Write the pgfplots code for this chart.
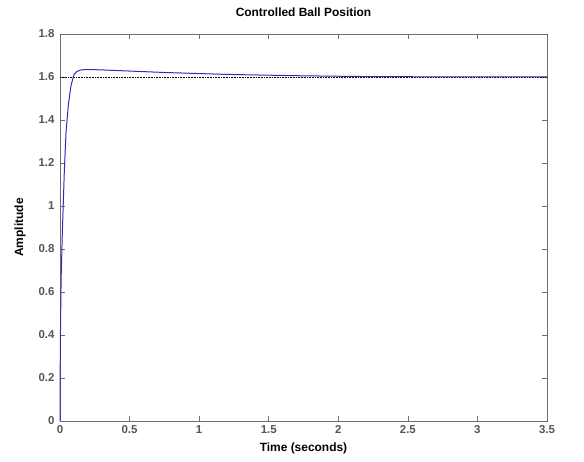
\documentclass[border=0pt]{standalone}
\usepackage{pgfplots}
\pgfplotsset{compat=1.18}
\usepackage{fontspec}
\setmainfont{Liberation Sans}
\definecolor{curve}{RGB}{45,45,185}
\definecolor{axgray}{RGB}{110,110,110}
\definecolor{tickgray}{RGB}{85,85,85}
\begin{document}
\begin{tikzpicture}
\path (-60bp,-41bp) rectangle (524bp,421bp);
\begin{axis}[
  at={(0,0)}, anchor=south west,
  scale only axis, width=487bp, height=387bp,
  xmin=0, xmax=3.5, ymin=0, ymax=1.8,
  xtick={0,0.5,...,3.5}, ytick={0,0.2,...,1.8},
  xticklabels={0,0.5,1,1.5,2,2.5,3,3.5},
  yticklabels={0,0.2,0.4,0.6,0.8,1,1.2,1.4,1.6,1.8},
  /pgf/number format/assume math mode=true,
  tick align=inside, major tick length=5bp,
  axis line style={axgray, line width=0.8pt},
  every tick/.style={axgray, line width=0.6pt},
  tick label style={font=\bfseries\fontsize{11.5}{13}\selectfont, text=tickgray},
  xticklabel style={yshift=-1bp},
  yticklabel style={xshift=-2bp},
  title={\bfseries\fontsize{12}{14}\selectfont Controlled Ball Position},
  title style={yshift=8bp},
  xlabel={\bfseries\fontsize{12}{14}\selectfont Time (seconds)},
  ylabel={\bfseries\fontsize{12}{14}\selectfont Amplitude},
  xlabel style={yshift=-2bp},
  ylabel style={yshift=6bp},
  clip=false,
]
\addplot[black, densely dotted, line width=0.6pt] coordinates {(0,1.6) (3.5,1.6)};
\addplot[curve, line width=1pt] coordinates {
(0,0) (0.001,0.2) (0.003,0.39) (0.008,0.66) (0.017,0.88) (0.024,1.02) (0.031,1.16)
(0.043,1.34) (0.06,1.47) (0.079,1.56) (0.10,1.61) (0.12,1.625) (0.15,1.633)
(0.2,1.635) (0.3,1.633) (0.45,1.629) (0.6,1.625) (0.75,1.621) (0.9,1.618)
(1.05,1.615) (1.2,1.612) (1.45,1.609) (1.7,1.606) (2.0,1.6035) (2.2,1.602)
(2.6,1.601) (3.0,1.6003) (3.5,1.6)
};
\end{axis}
\end{tikzpicture}
\end{document}
